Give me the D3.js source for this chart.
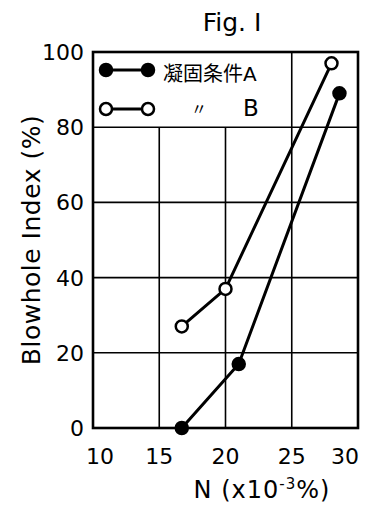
<!DOCTYPE html>
<html>
<head>
<meta charset="utf-8">
<script src="https://cdn.jsdelivr.net/npm/d3@7"></script>
<style>
  body { margin: 0; background: #fff; }
  text { font-family: "DejaVu Sans", "Noto Sans CJK JP", sans-serif; fill: #000; }
</style>
</head>
<body>
<svg id="chart" width="368" height="505"></svg>
<script>
// values
const xTicks = [10, 15, 20, 25, 30];
const yTicks = [0, 20, 40, 60, 80, 100];
const seriesA = [[16.7, 0], [21.0, 17], [28.6, 89]];
const seriesB = [[16.7, 27], [20.0, 37], [28.0, 97]];
const legendLabels = ['凝固条件A', '〃', 'B'];

const svg = d3.select('#chart'),
    margin = {top: 52, right: 10, bottom: 77, left: 93},
    width = +svg.attr('width') - margin.left - margin.right,
    height = +svg.attr('height') - margin.top - margin.bottom;

const x = d3.scaleLinear().domain([10, 30]).range([0, width]);
const y = d3.scaleLinear().domain([0, 100]).range([height, 0]);

const g = svg.append('g')
    .attr('transform', 'translate(' + margin.left + ',' + margin.top + ')');

// grid: the inner verticals stop at 80 where the legend box sits
g.selectAll('.vgrid')
    .data(xTicks.slice(1, -1))
    .enter().append('line')
    .attr('x1', d => x(d)).attr('x2', d => x(d))
    .attr('y1', height)
    .attr('y2', d => d < 25 ? y(80) : 0)
    .attr('stroke', '#000').attr('stroke-width', 1.6);

g.selectAll('.hgrid')
    .data(yTicks.slice(1, -1))
    .enter().append('line')
    .attr('x1', 0).attr('x2', width)
    .attr('y1', d => y(d)).attr('y2', d => y(d))
    .attr('stroke', '#000').attr('stroke-width', 1.6);

g.append('rect')
    .attr('width', width).attr('height', height)
    .attr('fill', 'none').attr('stroke', '#000').attr('stroke-width', 2.6);

// tick labels
g.selectAll('.ylab')
    .data(yTicks)
    .enter().append('text')
    .attr('x', -9).attr('y', d => y(d))
    .attr('dy', '0.36em')
    .attr('text-anchor', 'end')
    .style('font-size', '22px')
    .text(d => d);

g.selectAll('.xlab')
    .data(xTicks)
    .enter().append('text')
    .attr('x', (d, i) => i === xTicks.length - 1 ? x(d) + 1 : x(d) + (i === 0 ? 7 : 0))
    .attr('y', height + 36)
    .attr('text-anchor', (d, i) => i === xTicks.length - 1 ? 'end' : 'middle')
    .style('font-size', '22px')
    .text(d => d);

// series
const line = d3.line().x(d => x(d[0])).y(d => y(d[1]));

function drawSeries(data, fill) {
  g.append('path').datum(data)
      .attr('d', line)
      .attr('fill', 'none').attr('stroke', '#000').attr('stroke-width', 3);
  g.selectAll(null).data(data).enter().append('circle')
      .attr('cx', d => x(d[0])).attr('cy', d => y(d[1]))
      .attr('r', 6)
      .attr('fill', fill).attr('stroke', '#000').attr('stroke-width', 2.5);
}
drawSeries(seriesA, '#000');
drawSeries(seriesB, '#fff');

// legend
function legendMark(yy, fill) {
  g.append('line')
      .attr('x1', 13).attr('x2', 55).attr('y1', yy).attr('y2', yy)
      .attr('stroke', '#000').attr('stroke-width', 3);
  [13, 55].forEach(cx => g.append('circle')
      .attr('cx', cx).attr('cy', yy).attr('r', 6)
      .attr('fill', fill).attr('stroke', '#000').attr('stroke-width', 2.5));
}
legendMark(18, '#000');
legendMark(57, '#fff');

g.append('text').attr('x', 70).attr('y', 22).attr('dy', '0.36em')
    .style('font-size', '20px').text(legendLabels[0]);
g.append('text').attr('x', 98).attr('y', 57).attr('dy', '0.36em')
    .style('font-size', '16px').text(legendLabels[1]);
g.append('text').attr('x', 150).attr('y', 56).attr('dy', '0.36em')
    .style('font-size', '23px').text(legendLabels[2]);

// titles
svg.append('text')
    .attr('x', 232).attr('y', 31)
    .attr('text-anchor', 'middle')
    .style('font-size', '25px')
    .text('Fig. I');

svg.append('text')
    .attr('transform', 'translate(40,' + (margin.top + height / 2) + ') rotate(-90)')
    .attr('text-anchor', 'middle')
    .style('font-size', '25px')
    .style('letter-spacing', '0.5px')
    .text('Blowhole Index (%)');

const xl = svg.append('text')
    .attr('x', 262).attr('y', 498)
    .attr('text-anchor', 'middle')
    .style('font-size', '24px')
    .style('letter-spacing', '1px');
xl.append('tspan').text('N (x10');
xl.append('tspan').attr('dy', -9).style('font-size', '15px').text('-3');
xl.append('tspan').attr('dy', 9).text('%)');
</script>
</body>
</html>
